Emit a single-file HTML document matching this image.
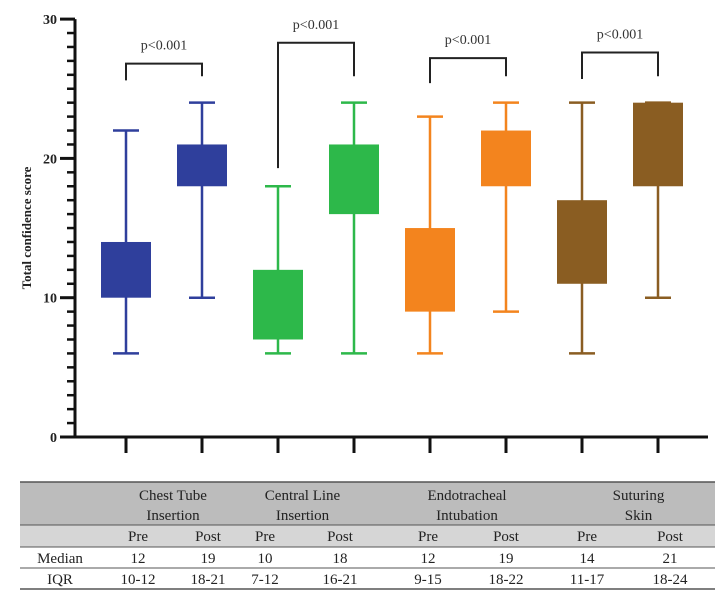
<!DOCTYPE html>
<html><head><meta charset="utf-8"><style>
body{margin:0;background:#fff;width:727px;height:596px;overflow:hidden;font-family:"Liberation Serif",serif}
</style></head><body>
<svg width="727" height="596" xmlns="http://www.w3.org/2000/svg">
<g id="plot"></g>
<g id="tbl"></g>
</svg>
<script>
const categories=["Chest Tube Pre","Chest Tube Post","Central Line Pre","Central Line Post","Endotracheal Pre","Endotracheal Post","Suturing Pre","Suturing Post"];
const mins=[6,10,6,6,6,9,6,10];
const q1s=[10,18,7,16,9,18,11,18];
const q3s=[14,21,12,21,15,22,17,24];
const maxs=[22,24,18,24,23,24,24,24];
const colors=["#2f3f9c","#2f3f9c","#2db84a","#2db84a","#f3841e","#f3841e","#8a5d22","#8a5d22"];
const yTicks=[0,10,20,30];
const pLabels=["p<0.001","p<0.001","p<0.001","p<0.001"];
const bracketTops=[26.8,28.3,27.2,27.6];
const bracketLeft=[25.6,19.3,25.4,25.7];
const bracketRight=[25.9,25.9,25.9,25.9];
const tableGroups=["Chest Tube|Insertion","Central Line|Insertion","Endotracheal|Intubation","Suturing|Skin"];
const medians=["12","19","10","18","12","19","14","21"];
const iqrs=["10-12","18-21","7-12","16-21","9-15","18-22","11-17","18-24"];

const NS="http://www.w3.org/2000/svg";
const y=v=>437-v*13.93;
const x=i=>126+i*76;
const plot=document.getElementById('plot');
function mk(p,tag,a,txt){const e=document.createElementNS(NS,tag);for(const k in a)e.setAttribute(k,a[k]);if(txt!==undefined)e.textContent=txt;p.appendChild(e);return e;}
// axes
let e=mk(plot,'line',{x1:75,y1:y(30),x2:75,y2:438,stroke:'#111','stroke-width':3});


e=mk(plot,'line',{x1:74,y1:437,x2:708,y2:437,stroke:'#111','stroke-width':3});


for(let v=0;v<=30;v++){const major=v%10===0;
 e=mk(plot,'line',{x1:major?60:67,y1:y(v),x2:75,y2:y(v),stroke:'#111','stroke-width':major?3:2.5});
 
 }
yTicks.forEach(v=>{e=mk(plot,'text',{x:57,y:y(v)+5,'text-anchor':'end','font-size':14,'font-weight':'bold',fill:'#222'},String(v));
 
 });
e=mk(plot,'text',{x:0,y:0,transform:'translate(31,228) rotate(-90)','text-anchor':'middle','font-size':13,'font-weight':'bold',fill:'#222'},'Total confidence score');


categories.forEach((c,i)=>{const cx=x(i),col=colors[i];
 e=mk(plot,'line',{x1:cx,y1:437,x2:cx,y2:453,stroke:'#111','stroke-width':3});
 
 
 const g=mk(plot,'g',{});
 
 
 mk(g,'line',{x1:cx,y1:y(maxs[i]),x2:cx,y2:y(mins[i]),stroke:col,'stroke-width':2.5});
 mk(g,'line',{x1:cx-13,y1:y(maxs[i]),x2:cx+13,y2:y(maxs[i]),stroke:col,'stroke-width':2.5});
 mk(g,'line',{x1:cx-13,y1:y(mins[i]),x2:cx+13,y2:y(mins[i]),stroke:col,'stroke-width':2.5});
 mk(g,'rect',{x:cx-25,y:y(q3s[i]),width:50,height:y(q1s[i])-y(q3s[i]),fill:col});
});
pLabels.forEach((p,k)=>{const a=x(2*k),b=x(2*k+1),t=y(bracketTops[k]);
 const g=mk(plot,'g',{});
 
 
 mk(g,'path',{d:`M${a} ${y(bracketLeft[k])}V${t}H${b}V${y(bracketRight[k])}`,fill:'none',stroke:'#222','stroke-width':2});
 mk(g,'text',{x:(a+b)/2,y:t-14,'text-anchor':'middle','font-size':14,fill:'#333'},p);
});
// table
const tb=document.getElementById('tbl');
mk(tb,'rect',{x:20,y:482,width:695,height:43,fill:'#bcbcbc'});
mk(tb,'rect',{x:20,y:525,width:695,height:22,fill:'#d6d6d6'});
[482,525,547,568,589].forEach((ly,j)=>mk(tb,'line',{x1:20,y1:ly,x2:715,y2:ly,stroke:'#555','stroke-width':j==0||j==4?1.5:1}));
const colX=[138,208,265,340,428,506,587,670];
tableGroups.forEach((g,k)=>{const cx=(colX[2*k]+colX[2*k+1])/2+(k==3?10:0);const [l1,l2]=g.split('|');
 e=mk(tb,'text',{x:cx,y:500,'text-anchor':'middle','font-size':15,fill:'#222'},l1);
 
 
 mk(tb,'text',{x:cx,y:520,'text-anchor':'middle','font-size':15,fill:'#222'},l2);});
colX.forEach((cx,i)=>{
 mk(tb,'text',{x:cx,y:541,'text-anchor':'middle','font-size':15,fill:'#222'},i%2?'Post':'Pre');
 e=mk(tb,'text',{x:cx,y:563,'text-anchor':'middle','font-size':15,fill:'#222'},medians[i]);
 
 
 e=mk(tb,'text',{x:cx,y:584,'text-anchor':'middle','font-size':15,fill:'#222'},iqrs[i]);
 
 });
mk(tb,'text',{x:60,y:563,'text-anchor':'middle','font-size':15,fill:'#222'},'Median');
mk(tb,'text',{x:60,y:584,'text-anchor':'middle','font-size':15,fill:'#222'},'IQR');
</script>
</body></html>
